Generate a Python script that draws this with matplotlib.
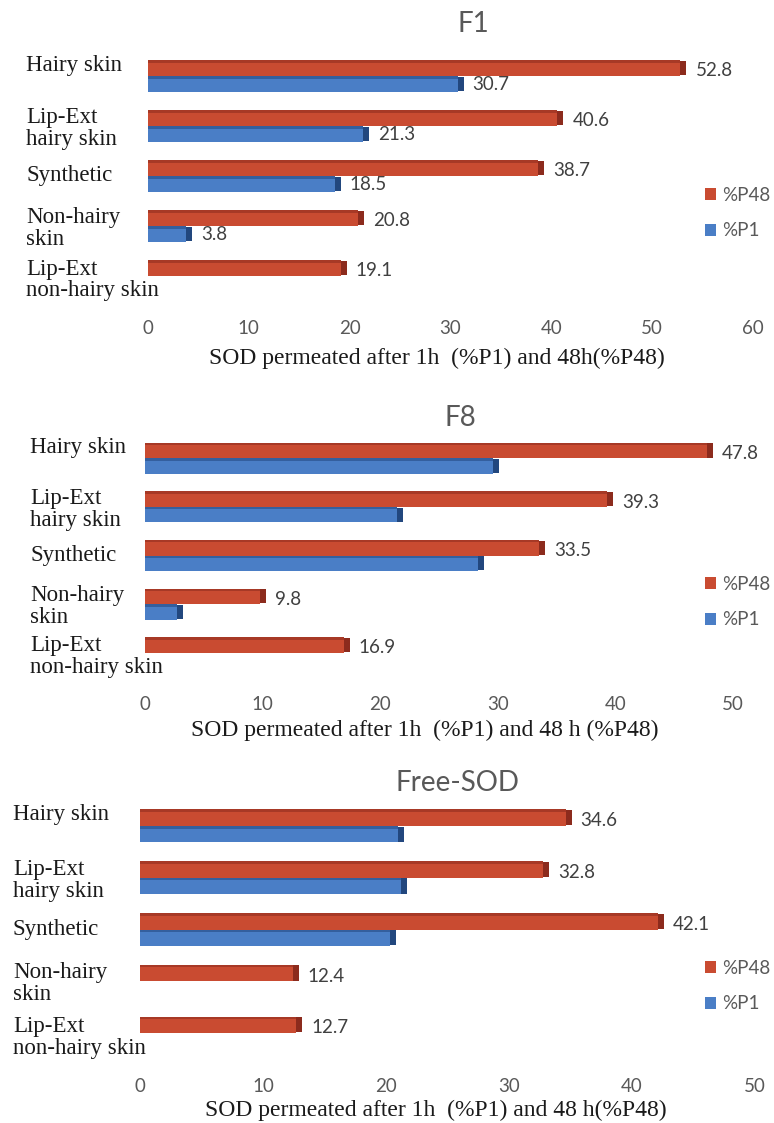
import matplotlib
matplotlib.use("Agg")
import matplotlib.pyplot as plt
import matplotlib.transforms as mtransforms
import numpy as np

# ── Données ───────────────────────────────────────────────────────────
categories = ["Hairy skin", "Lip-Ext\nhairy skin", "Synthetic",
              "Non-hairy\nskin", "Lip-Ext\nnon-hairy skin"]

f1_p48 = [52.8, 40.6, 38.7, 20.8, 19.1]
f1_p1 = [30.7, 21.3, 18.5, 3.8, 0.0]

f8_p48 = [47.8, 39.3, 33.5, 9.8, 16.9]
f8_p1 = [29.6, 21.4, 28.3, 2.7, 0.0]

free_p48 = [34.6, 32.8, 42.1, 12.4, 12.7]
free_p1 = [21.0, 21.2, 20.3, 0.0, 0.0]

titles = ["F1", "F8", "Free-SOD"]
x_max = [60, 50, 50]
x_labels = ["SOD permeated after 1h  (%P1) and 48h(%P48)",
            "SOD permeated after 1h  (%P1) and 48 h (%P48)",
            "SOD permeated after 1h  (%P1) and 48 h(%P48)"]
show_p1_values = [True, False, False]

# ── Mise en page (pixels) ─────────────────────────────────────────────
W, H = 774, 1123
# x du zéro, x du max, haut, bas de la zone des barres
panel_px = [(148, 753, 51, 301), (145, 733, 434, 677), (140, 755, 800, 1059)]
title_px = [(473, 24), (460, 418), (458, 783)]
xlabel_px = [(437, 358), (425, 730), (436, 1110)]
label_x_px = [26, 30, 13]
legend_y_px = [213, 602, 986]
label_dy = [-0.22, 0.05, 0.0, 0.05, 0.08]

RED, RED_DARK = "#c94b31", "#8c2b1d"
BLUE, BLUE_DARK = "#4a7ec6", "#22477e"
GREY = "#595959"
SERIF = ["Liberation Serif", "DejaVu Serif"]
SANS = ["Lato", "DejaVu Sans"]

fig = plt.figure(figsize=(W / 100, H / 100), dpi=100)

series = [(f1_p48, f1_p1), (f8_p48, f8_p1), (free_p48, free_p1)]
bar_h = 0.32
y = np.arange(len(categories))

for i, (p48, p1) in enumerate(series):
    x0, x1, top, bottom = panel_px[i]
    ax = fig.add_axes([x0 / W, 1 - bottom / H, (x1 - x0) / W, (bottom - top) / H])
    ax.set_xlim(0, x_max[i])
    ax.set_ylim(len(categories) - 0.5, -0.5)

    px = x_max[i] / (x1 - x0)   # unités par pixel
    depth = 6 * px

    # faces avant
    b48 = ax.barh(y - bar_h / 2, p48, height=bar_h, color=RED, label="%P48")
    b1 = ax.barh(y + bar_h / 2, p1, height=bar_h, color=BLUE, label="%P1")

    # effet 3D : bout et arête supérieure plus sombres
    for vals, yy, dark in [(p48, y - bar_h / 2, RED_DARK), (p1, y + bar_h / 2, BLUE_DARK)]:
        vals = np.asarray(vals)
        mask = vals > 0
        ax.barh(yy[mask], depth, left=vals[mask], height=bar_h * 0.92,
                color=dark)
        ax.barh(yy[mask] - bar_h * 0.42, vals[mask], height=bar_h * 0.16,
                color=dark, alpha=0.55)

    # valeurs
    for v, yy in zip(p48, y - bar_h / 2):
        ax.text(v + depth + 9 * px, yy + 0.06, f"{v:.1f}", va="center",
                ha="left", fontsize=13.5, color="#404040", family=SANS)
    if show_p1_values[i]:
        for v, yy in zip(p1, y + bar_h / 2):
            if v > 0:
                ax.text(v + depth + 9 * px, yy, f"{v:.1f}", va="center",
                        ha="left", fontsize=13.5, color="#404040", family=SANS)

    # axes
    for s in ax.spines.values():
        s.set_visible(False)
    ax.set_yticks([])
    ax.set_xticks(np.arange(0, x_max[i] + 1, 10))
    ax.tick_params(axis="x", length=0, pad=14, labelsize=13.5, labelcolor=GREY)
    for t in ax.get_xticklabels():
        t.set_family(SANS)

    lx, ly = xlabel_px[i]
    fig.text(lx / W, 1 - ly / H, x_labels[i], ha="center", va="center",
             fontsize=17, family=SERIF, color="#1a1a1a")

    # étiquettes des catégories
    trans = mtransforms.blended_transform_factory(fig.transFigure, ax.transData)
    for yy, name, dy in zip(y, categories, label_dy):
        ax.text(label_x_px[i] / W, yy + dy, name, transform=trans,
                ha="left", va="center", fontsize=16.5, family=SERIF,
                color="#1a1a1a", linespacing=1.05)

    # titre
    tx, ty = title_px[i]
    fig.text(tx / W, 1 - ty / H, titles[i], ha="center", va="center",
             fontsize=20, color=GREY, family=SANS)

    # légende
    ax.legend(handles=[b48, b1], loc="center left",
              bbox_to_anchor=(688 / W, 1 - legend_y_px[i] / H),
              bbox_transform=fig.transFigure, frameon=False,
              handlelength=0.6, handleheight=0.6, handletextpad=0.3,
              labelspacing=1.0, prop={"family": SANS, "size": 13.5},
              labelcolor=GREY)

fig.savefig("out.png", dpi=100)
plt.close()
